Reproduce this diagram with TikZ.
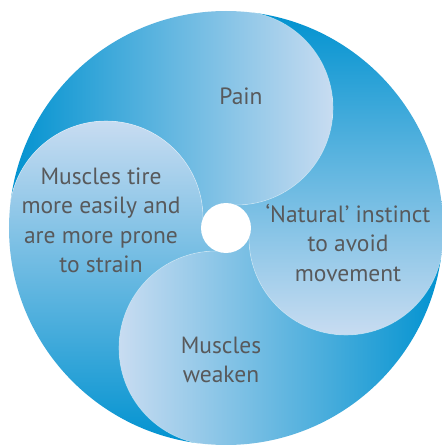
\documentclass[tikz,border=0pt]{standalone}
\usepackage{fontspec}
\setmainfont{PT Sans}
\definecolor{edgeblue}{RGB}{0,146,208}
\definecolor{paleblue}{RGB}{200,220,241}
\definecolor{labelgray}{RGB}{88,89,91}
\tikzset{
  label text/.style={text=labelgray, inner sep=0pt, anchor=base,
    font=\fontsize{23.5}{29.5}\selectfont},
  seam/.style={draw=white, draw opacity=0.45, line width=0.6pt}
}
\newcommand{\outerdisc}{(0,0) circle[radius=217]}
\begin{document}
\begin{tikzpicture}[x=1pt,y=1pt]
\useasboundingbox (-226,-217) rectangle (216,228);
\fill[white] (-226,-217) rectangle (216,228);
% Pain region
\begin{scope}
  \clip \outerdisc;
  \clip (0,0) -- (10,23) arc[start angle=-90,end angle=90,radius=97] -- (10,250) -- (-250,250) -- (-250,10) -- (-217,10) arc[start angle=180,end angle=0,radius=97] -- cycle;
  \shade[left color=edgeblue, right color=paleblue] (-217,-250) rectangle (107,250);
\end{scope}
% Natural region
\begin{scope}
  \clip \outerdisc;
  \clip (0,0) -- (23,-10) arc[start angle=180,end angle=360,radius=97] -- (250,-10) -- (250,250) -- (10,250) -- (10,217) arc[start angle=90,end angle=-90,radius=97] -- cycle;
  \shade[top color=edgeblue, bottom color=paleblue] (-250,217) rectangle (250,-107);
\end{scope}
% Weaken region
\begin{scope}
  \clip \outerdisc;
  \clip (0,0) -- (-10,-23) arc[start angle=90,end angle=270,radius=97] -- (-10,-250) -- (250,-250) -- (250,-10) -- (217,-10) arc[start angle=0,end angle=-180,radius=97] -- cycle;
  \shade[left color=paleblue, right color=edgeblue] (-107,-250) rectangle (217,250);
\end{scope}
% Tire region
\begin{scope}
  \clip \outerdisc;
  \clip (0,0) -- (-23,10) arc[start angle=0,end angle=180,radius=97] -- (-250,10) -- (-250,-250) -- (-10,-250) -- (-10,-217) arc[start angle=270,end angle=90,radius=97] -- cycle;
  \shade[top color=paleblue, bottom color=edgeblue] (-250,107) rectangle (250,-217);
\end{scope}
% seams
\begin{scope}
  \clip \outerdisc;
  \draw[seam] (10,23) arc[start angle=-90,end angle=90,radius=97];
  \draw[seam] (23,-10) arc[start angle=180,end angle=360,radius=97];
  \draw[seam] (-10,-23) arc[start angle=90,end angle=270,radius=97];
  \draw[seam] (-23,10) arc[start angle=0,end angle=180,radius=97];
\end{scope}
% hole
\fill[white] (0,0) circle[radius=25];
% labels
\node[label text] (pain) at (15,124) {Pain};
\node[label text] (tire) at (-125,44) {\begin{tabular}[t]{@{}c@{}}Muscles tire\\ more easily and\\ are more prone\\ to strain\end{tabular}};
\node[label text] (natural) at (122,6) {\begin{tabular}[t]{@{}c@{}}‘Natural’ instinct\\ to avoid\\ movement\end{tabular}};
\node[label text] (weaken) at (-5,-125) {\begin{tabular}[t]{@{}c@{}}Muscles\\ weaken\end{tabular}};
\end{tikzpicture}
\end{document}
